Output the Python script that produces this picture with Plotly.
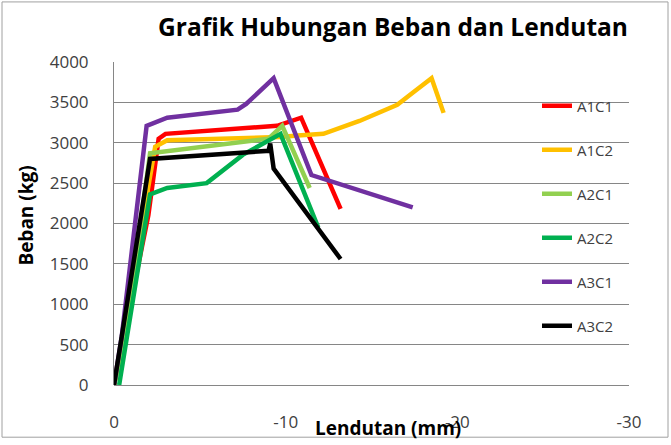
import plotly.graph_objects as go

names = ["A1C1", "A1C2", "A2C1", "A2C2", "A3C1", "A3C2"]
colors = ["#FF0000", "#FFC000", "#92D050", "#00B050", "#7030A0", "#000000"]

x_A1C1 = [0, -2.0, -2.6, -3.0, -9.5, -10.9, -13.2]
y_A1C1 = [0, 2100, 3050, 3110, 3210, 3310, 2180]

x_A1C2 = [0, -2.4, -3.1, -9.7, -10.7, -12.2, -14.3, -16.5, -17.4, -18.5, -19.2]
y_A1C2 = [0, 2950, 3030, 3070, 3090, 3110, 3270, 3470, 3620, 3800, 3370]

x_A2C1 = [0, -0.6, -2.1, -9.0, -9.8, -11.4]
y_A2C1 = [0, 500, 2870, 3050, 3210, 2440]

x_A2C2 = [-0.3, -2.1, -3.1, -5.4, -7.5, -9.7, -11.9]
y_A2C2 = [0, 2360, 2440, 2500, 2850, 3110, 1950]

x_A3C1 = [0, -0.45, -1.9, -3.1, -7.2, -7.7, -9.3, -11.5, -17.4]
y_A3C1 = [0, 600, 3210, 3310, 3410, 3480, 3800, 2600, 2200]

x_A3C2 = [0, -2.1, -9.0, -9.1, -9.3, -13.2]
y_A3C2 = [0, 2800, 2900, 2990, 2680, 1560]

xs = [x_A1C1, x_A1C2, x_A2C1, x_A2C2, x_A3C1, x_A3C2]
ys = [y_A1C1, y_A1C2, y_A2C1, y_A2C2, y_A3C1, y_A3C2]

x_ticks = [0, -10, -20, -30]
y_ticks = [0, 500, 1000, 1500, 2000, 2500, 3000, 3500, 4000]

FONT = "Open Sans"
fig = go.Figure()
for n, c, x, y in zip(names, colors, xs, ys):
    fig.add_trace(go.Scatter(x=x, y=y, mode="lines", name=n, legendgroup=n,
                             line=dict(color=c, width=4.5, shape="linear")))

L, R, T, B = 114, 629, 62, 390
W, H = 671, 445
pw, ph = R - L, B - T

fig.update_layout(
    width=W, height=H,
    margin=dict(l=L, r=W - R, t=T, b=H - B),
    paper_bgcolor="white", plot_bgcolor="white",
    font=dict(family=FONT, size=17, color="#404040"),
    title=dict(text="<b>Grafik Hubungan Beban dan Lendutan</b>",
               x=393 / W, xanchor="center", y=1 - 27 / H, yanchor="middle",
               font=dict(family=FONT, size=24.5, color="#000000")),
    showlegend=True,
    legend=dict(x=(537 - L) / pw, xanchor="left", y=(B - 90) / ph, yanchor="top",
                bgcolor="rgba(0,0,0,0)", font=dict(family=FONT, size=15, color="#404040"),
                tracegroupgap=21.5, itemwidth=30),
    xaxis=dict(range=[0, -30], tickvals=x_ticks, ticktext=[str(v) for v in x_ticks],
               showgrid=False, zeroline=False, showline=False,
               ticks="", ticklabelstandoff=25),
    yaxis=dict(range=[0, 4000], tickvals=y_ticks, ticktext=[str(v) for v in y_ticks],
               showgrid=True, gridcolor="#868686", gridwidth=1,
               zeroline=True, zerolinecolor="#868686", zerolinewidth=1,
               showline=True, linecolor="#868686", linewidth=1,
               ticks="", ticklabelstandoff=21),
)

fig.add_annotation(text="<b>Lendutan (mm)</b>", xref="paper", yref="paper",
                   x=(388 - L) / pw, y=(B - 434) / ph, xanchor="center", yanchor="middle",
                   showarrow=False, font=dict(family=FONT, size=19, color="#000000"))
fig.add_annotation(text="<b>Beban (kg)</b>", xref="paper", yref="paper",
                   x=(26 - L) / pw, y=(B - 218) / ph, xanchor="center", yanchor="middle",
                   textangle=-90, showarrow=False,
                   font=dict(family=FONT, size=19, color="#000000"))

# chart-area border
fig.add_shape(type="rect", xref="paper", yref="paper",
              x0=(2 - L) / pw, x1=(668 - L) / pw, y0=(B - 443) / ph, y1=(B - 1) / ph,
              line=dict(color="#A0A0A0", width=1), fillcolor="rgba(0,0,0,0)", layer="below")

fig.write_html("out.html")
